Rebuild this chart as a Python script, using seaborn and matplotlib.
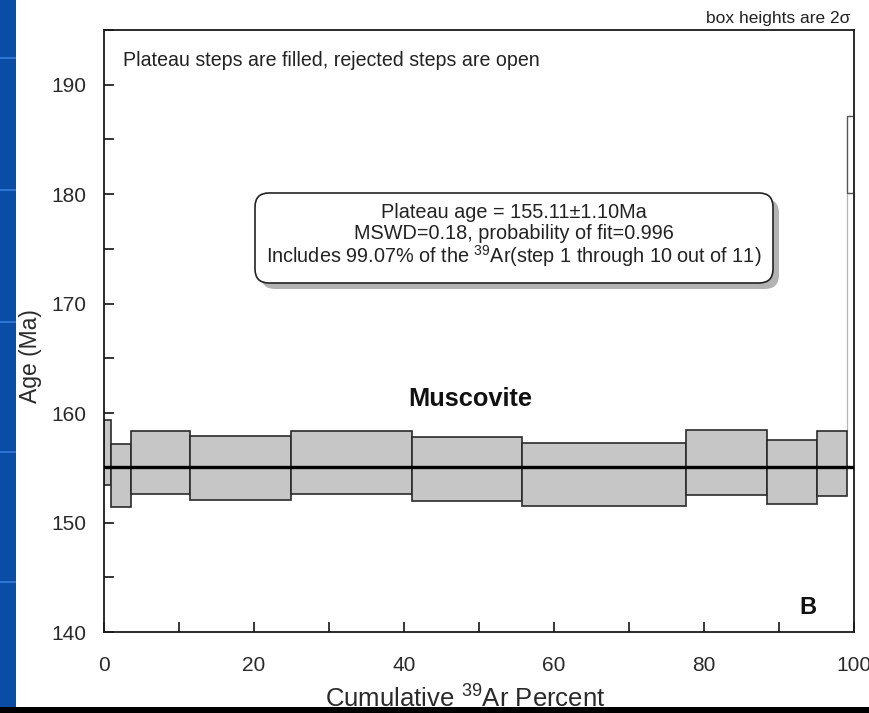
import matplotlib
matplotlib.use("Agg")
import matplotlib.pyplot as plt
from matplotlib.patches import Rectangle, FancyBboxPatch
import seaborn as sns
import numpy as np
import pandas as pd

# Step-heating data: cumulative 39Ar release (%) and apparent ages (Ma), 2-sigma
step_no = [1, 2, 3, 4, 5, 6, 7, 8, 9, 10, 11]
cum_start = [0.0, 0.9, 3.6, 11.5, 24.9, 41.1, 55.7, 77.6, 88.4, 95.1, 99.07]
cum_end = [0.9, 3.6, 11.5, 24.9, 41.1, 55.7, 77.6, 88.4, 95.1, 99.07, 100.0]
age = [156.4, 154.3, 155.5, 155.0, 155.5, 154.9, 154.4, 155.5, 154.6, 155.4, 183.6]
err_2s = [3.0, 2.9, 2.9, 2.9, 2.9, 2.9, 2.9, 3.0, 2.9, 3.0, 3.5]
in_plateau = [True] * 10 + [False]

plateau_age = 155.11
plateau_err = 1.10
mswd = 0.18
prob_fit = 0.996
plateau_pct = 99.07

x_ticks = [0, 20, 40, 60, 80, 100]
y_ticks = [140, 150, 160, 170, 180, 190]

df = pd.DataFrame({
    "step": step_no, "start": cum_start, "end": cum_end,
    "age": age, "err": err_2s, "plateau": in_plateau,
})
df["width"] = df["end"] - df["start"]
df["low"] = df["age"] - df["err"]
df["high"] = df["age"] + df["err"]

sns.set_theme(style="ticks")
plt.rcParams["font.family"] = ["Liberation Sans", "DejaVu Sans"]
plt.rcParams["mathtext.fontset"] = "custom"
plt.rcParams["mathtext.rm"] = "Liberation Sans"
plt.rcParams["mathtext.it"] = "Liberation Sans:italic"
plt.rcParams["mathtext.bf"] = "Liberation Sans:bold"

fig = plt.figure(figsize=(8.7, 7.13), dpi=100)
fig.patch.set_facecolor("white")

# slide decoration: blue strip on the left and black strip at the bottom
fig.patches.append(Rectangle((0, 0), 16 / 870, 1, transform=fig.transFigure,
                             facecolor="#0a4da6", edgecolor="none", zorder=0))
for yy in [58, 190, 322, 452, 582]:
    fig.patches.append(Rectangle((0, 1 - (yy + 1) / 713), 16 / 870, 2 / 713,
                                 transform=fig.transFigure,
                                 facecolor="#2f75d0", edgecolor="none", zorder=0.5))
fig.patches.append(Rectangle((0, 0), 1, 6 / 713, transform=fig.transFigure,
                             facecolor="black", edgecolor="none", zorder=5))

ax = fig.add_axes([104 / 870, 1 - 632 / 713, 750 / 870, 602 / 713])
ax.set_facecolor("white")

plat = df[df["plateau"]]
rej = df[~df["plateau"]]

# connector between the last plateau step and the rejected step
ax.vlines(rej["start"], plat["high"].iloc[-1], rej["low"], color="#b5b5b5", lw=0.9, zorder=1)

ax.bar(plat["start"], plat["high"] - plat["low"], width=plat["width"], bottom=plat["low"],
       align="edge", facecolor="#c6c6c6", edgecolor="#2b2b2b", linewidth=1.2, zorder=2)
ax.bar(rej["start"], rej["high"] - rej["low"], width=rej["width"], bottom=rej["low"],
       align="edge", fill=False, edgecolor="#555555", linewidth=1.0, zorder=2)

line_df = pd.DataFrame({"x": [0, 100], "y": [plateau_age, plateau_age]})
sns.lineplot(data=line_df, x="x", y="y", ax=ax, color="black", lw=2.4, zorder=3)

ax.set_xlim(0, 100)
ax.set_ylim(140, 195)
ax.set_xticks(x_ticks)
ax.set_xticks(np.arange(0, 101, 10), minor=True)
ax.set_yticks(y_ticks)
ax.set_yticks(np.arange(140, 196, 5), minor=True)
ax.tick_params(axis="both", which="both", direction="in", color="black",
               length=7, width=1.1, labelsize=15, labelcolor="#2a2a2a")
ax.tick_params(axis="x", which="major", pad=17)
ax.tick_params(axis="y", which="major", pad=13)
for s in ax.spines.values():
    s.set_visible(True)
    s.set_color("#1a1a1a")
    s.set_linewidth(1.3)

ax.set_xlabel("Cumulative $^{39}$Ar Percent", fontsize=18.5, color="#2a2a2a")
ax.set_ylabel("Age (Ma)", fontsize=16.5, color="#2a2a2a")
ax.xaxis.set_label_coords(0.481, -0.088)
ax.yaxis.set_label_coords(-0.082, 0.458)

ax.text(0.026, 0.950, "Plateau steps are filled, rejected steps are open",
        transform=ax.transAxes, fontsize=14.1, color="#222222", ha="left", va="center")
ax.text(0.995, 1.006, "box heights are 2\u03c3", transform=ax.transAxes,
        fontsize=12.5, color="#222222", ha="right", va="bottom")
ax.text(0.488, 0.387, "Muscovite", transform=ax.transAxes, fontsize=18.3,
        fontweight="bold", color="#111111", ha="center", va="center")
ax.text(0.939, 0.04, "B", transform=ax.transAxes, fontsize=17,
        fontweight="bold", color="#111111", ha="center", va="center")

# plateau summary box with drop shadow
bx0, by0, bw, bh = 2.55, 4.30, 5.18, 0.90
shadow = FancyBboxPatch((bx0 + 0.06, by0 - 0.06), bw, bh,
                        boxstyle="round,pad=0,rounding_size=0.14",
                        transform=fig.dpi_scale_trans, facecolor="#9a9a9a",
                        edgecolor="none", alpha=0.75, zorder=6)
box = FancyBboxPatch((bx0, by0), bw, bh, boxstyle="round,pad=0,rounding_size=0.14",
                     transform=fig.dpi_scale_trans, facecolor="white",
                     edgecolor="#222222", linewidth=1.2, zorder=7)
fig.patches.extend([shadow, box])
lines = [
    f"Plateau age = {plateau_age:.2f}\u00b1{plateau_err:.2f}Ma",
    f"MSWD={mswd:.2f}, probability of fit={prob_fit:.3f}",
    f"Includes {plateau_pct:.2f}% of the $^{{39}}$Ar(step 1 through 10 out of 11)",
]
for i, t in enumerate(lines):
    fig.text(5.14 / 8.7, (5.01 - 0.22 * i) / 7.13, t, fontsize=14.3, color="#222222",
             ha="center", va="center", zorder=8)

fig.savefig("out.png", dpi=100)
